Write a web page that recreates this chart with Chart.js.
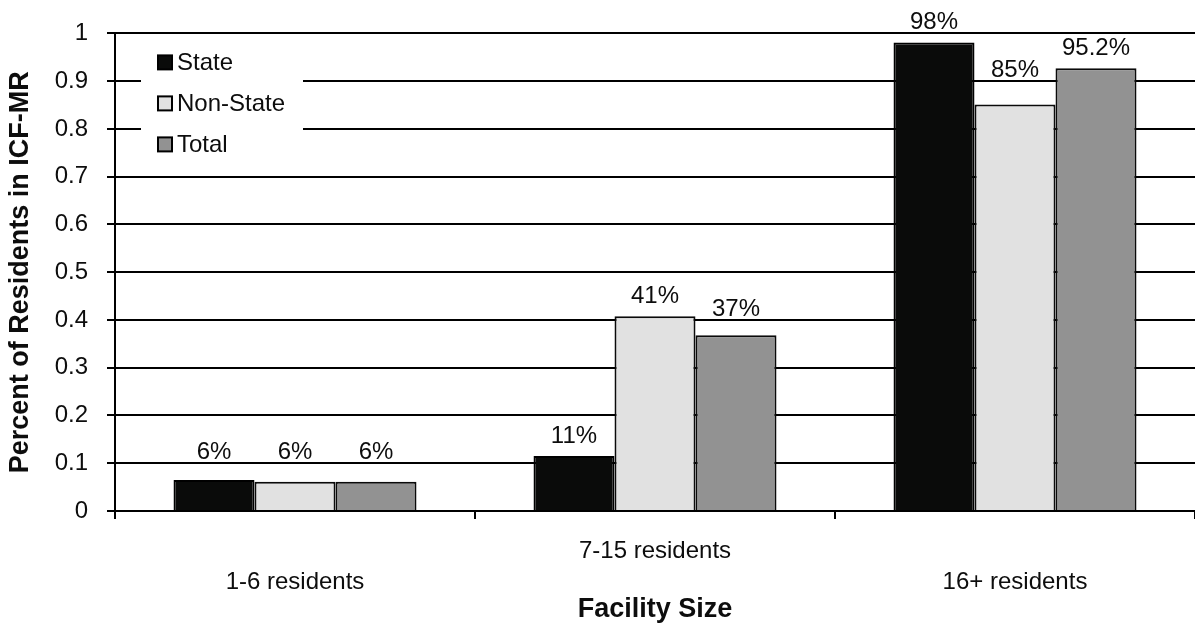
<!DOCTYPE html>
<html>
<head>
<meta charset="utf-8">
<script src="https://cdn.jsdelivr.net/npm/chart.js"></script>
<style>
  body { margin: 0; background: #fff; }
  #wrap { width: 1195px; height: 627px; position: relative; }
</style>
</head>
<body>
<div id="wrap"><canvas id="myChart"></canvas></div>
<script>
const categories = ['1-6 residents', '7-15 residents', '16+ residents'];
const seriesNames = ['State', 'Non-State', 'Total'];
const stateVals = [0.065, 0.115, 0.981];
const nonStateVals = [0.061, 0.408, 0.851];
const totalVals = [0.061, 0.368, 0.927];
const stateLabels = ['6%', '11%', '98%'];
const nonStateLabels = ['6%', '41%', '85%'];
const totalLabels = ['6%', '37%', '95.2%'];
const yTicks = [0, 0.1, 0.2, 0.3, 0.4, 0.5, 0.6, 0.7, 0.8, 0.9, 1];

const FONT = "'Liberation Sans', Arial, sans-serif";
const TXT = '#0d0d0d';

// value labels above the bars, nudged up so they never sit on a gridline
const barLabels = {
  id: 'barLabels',
  afterDatasetsDraw(chart) {
    const c = chart.ctx;
    const y = chart.scales.y;
    const lines = yTicks.map(v => y.getPixelForValue(v));
    c.save();
    c.font = '24px ' + FONT;
    c.fillStyle = TXT;
    c.textAlign = 'center';
    c.textBaseline = 'middle';
    chart.data.datasets.forEach((ds, i) => {
      chart.getDatasetMeta(i).data.forEach((bar, j) => {
        let cy = bar.y - 20;
        lines.forEach(ly => {
          if (ly > cy - 9 && ly < cy + 9) cy = ly - 11;
        });
        c.fillText(ds.valueLabels[j], bar.x, cy);
      });
    });
    c.restore();
  }
};

// legend box sitting inside the plot, top left
const innerLegend = {
  id: 'innerLegend',
  afterDatasetsDraw(chart) {
    const c = chart.ctx;
    const a = chart.chartArea;
    const x0 = a.left + 26, y0 = a.top + 11;
    c.save();
    c.fillStyle = '#fff';
    c.fillRect(x0, y0, 162, 120);
    c.font = '24px ' + FONT;
    c.textBaseline = 'middle';
    chart.data.datasets.forEach((ds, i) => {
      const cy = y0 + 18 + i * 41;
      c.fillStyle = ds.backgroundColor;
      c.fillRect(x0 + 17, cy - 7, 14, 14);
      c.strokeStyle = '#000';
      c.lineWidth = 2;
      c.strokeRect(x0 + 17, cy - 7, 14, 14);
      c.fillStyle = TXT;
      c.fillText(ds.label, x0 + 36, cy + 1);
    });
    c.restore();
  }
};

new Chart(document.getElementById('myChart'), {
  type: 'bar',
  data: {
    labels: categories,
    datasets: [
      { label: seriesNames[0], data: stateVals, valueLabels: stateLabels,
        backgroundColor: '#0a0b0a', borderColor: '#000', borderWidth: 2 },
      { label: seriesNames[1], data: nonStateVals, valueLabels: nonStateLabels,
        backgroundColor: '#e1e1e1', borderColor: '#0a0a0a', borderWidth: 2 },
      { label: seriesNames[2], data: totalVals, valueLabels: totalLabels,
        backgroundColor: '#929292', borderColor: '#0a0a0a', borderWidth: 2 }
    ]
  },
  options: {
    responsive: true,
    maintainAspectRatio: false,
    animation: false,
    layout: { padding: { top: 33, right: 0, bottom: 0, left: 0 } },
    datasets: { bar: { categoryPercentage: 0.675, barPercentage: 1.0 } },
    plugins: {
      legend: { display: false },
      tooltip: { enabled: false }
    },
    scales: {
      x: {
        afterFit(s) { s.height = 116; },
        grid: { drawOnChartArea: false, drawTicks: true, tickLength: 8, color: '#000', lineWidth: 2, offset: true },
        border: { display: true, color: '#000', width: 2 },
        ticks: {
          autoSkip: false, maxRotation: 0, padding: 17, color: TXT,
          font: { family: FONT, size: 24, lineHeight: 1.3 },
          // middle label sits one line higher than the outer two
          callback(v, i) { const t = categories[i]; return i % 2 === 1 ? [t] : ['', t]; }
        },
        title: {
          display: true, text: 'Facility Size', color: TXT,
          font: { family: FONT, size: 27, weight: 'bold' },
          padding: { top: 0, bottom: 1 }
        }
      },
      y: {
        min: 0, max: 1,
        afterFit(s) { s.width = 115; },
        afterBuildTicks(s) { s.ticks = yTicks.map(v => ({ value: v })); },
        grid: { color: '#000', lineWidth: 2, drawTicks: true, tickLength: 8 },
        border: { display: true, color: '#000', width: 2 },
        ticks: {
          padding: 19, color: TXT,
          font: { family: FONT, size: 24 },
          callback: v => String(Math.round(v * 10) / 10)
        },
        title: {
          display: true, text: 'Percent of Residents in ICF-MR', color: TXT,
          font: { family: FONT, size: 27, weight: 'bold' },
          padding: { top: 4, bottom: 0 }
        }
      }
    }
  },
  plugins: [innerLegend, barLabels]
});
</script>
</body>
</html>
